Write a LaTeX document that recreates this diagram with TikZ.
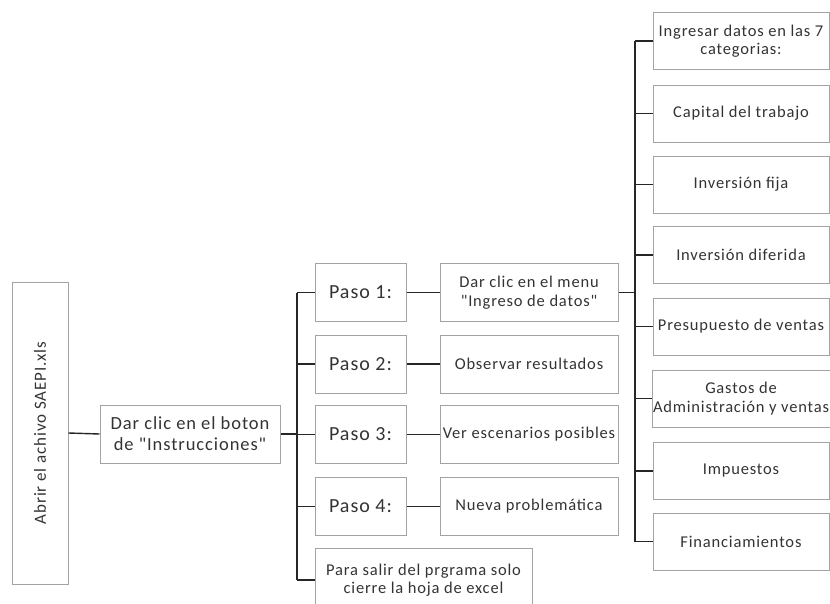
\documentclass[tikz,border=0pt]{standalone}
\usepackage{fontspec}
\setmainfont[LetterSpace=5, Ligatures=TeXOff]{Carlito}
\usetikzlibrary{positioning}
\definecolor{boxgray}{HTML}{A3A3A3}
\definecolor{textgray}{HTML}{333333}
\tikzset
{
	basebox/.style = {rectangle, draw=boxgray, line width=1pt, align=center, text=textgray, inner sep=1pt, font=\fontsize{16.5}{18.5}\selectfont},
	startbox/.style = {basebox, rotate=90, minimum width=302pt, minimum height=56pt, font=\fontsize{17}{20}\selectfont},
	instrbox/.style = {basebox, minimum width=180pt, minimum height=58pt, font=\fontsize{18.5}{21}\selectfont},
	pasobox/.style  = {basebox, minimum width=91pt, minimum height=58pt, font=\fontsize{20}{22}\selectfont},
	stepbox/.style  = {basebox, minimum width=178pt, minimum height=58pt},
	salirbox/.style = {basebox, minimum width=217pt, minimum height=64pt},
	catbox/.style   = {basebox, minimum width=176pt, minimum height=57pt},
	link/.style     = {draw=black!85, line width=1.4pt}
}

\begin{document}
\begin{tikzpicture}[x=1pt, y=-1pt]
\useasboundingbox (0,0) rectangle (830,603);
\node[startbox] (abrir) at (40,433) {Abrir el achivo SAEPI.xls};
\node[instrbox] (instr) at (190,434) {Dar clic en el boton\\de "Instrucciones"};
\node[pasobox] (paso1) at (360.5,292.5) {Paso 1:};
\node[pasobox] (paso2) at (360.5,364) {Paso 2:};
\node[pasobox] (paso3) at (360.5,434.5) {Paso 3:};
\node[pasobox] (paso4) at (360.5,506.5) {Paso 4:};
\node[salirbox] (salir) at (423.5,580) {Para salir del prgrama solo\\cierre la hoja de excel};
\node[stepbox] (menu) at (529,292.5) {Dar clic en el menu\\"Ingreso de datos"};
\node[stepbox] (observar) at (529,364) {Observar resultados};
\node[stepbox] (escenarios) at (529,434.5) {Ver escenarios posibles};
\node[stepbox] (nueva) at (529,506.5) {Nueva problemática};
\node[catbox] (cat0) at (741,41) {Ingresar datos en las 7\\categorias:};
\node[catbox] (cat1) at (741,113.5) {Capital del trabajo};
\node[catbox] (cat2) at (741,184.5) {Inversión fija};
\node[catbox] (cat3) at (741,255) {Inversión diferida};
\node[catbox] (cat4) at (741,326.5) {Presupuesto de ventas};
\node[catbox] (cat5) at (741,398.5) {Gastos de\\Administración y ventas};
\node[catbox] (cat6) at (741,471) {Impuestos};
\node[catbox] (cat7) at (741,541.5) {Financiamientos};
\coordinate (busA) at (297,0);
\coordinate (busB) at (635,0);
\draw[link] (abrir.south) -- (instr.west);
\draw[link] (instr.east) -- (busA |- instr.east);
\draw[link] (busA |- paso1.west) -- (busA |- salir.west);
\draw[link] (busA |- paso1.west) -- (paso1.west);
\draw[link] (busA |- paso2.west) -- (paso2.west);
\draw[link] (busA |- paso3.west) -- (paso3.west);
\draw[link] (busA |- paso4.west) -- (paso4.west);
\draw[link] (busA |- salir.west) -- (salir.west);
\draw[link] (paso1.east) -- (menu.west);
\draw[link] (paso2.east) -- (observar.west);
\draw[link] (paso3.east) -- (escenarios.west);
\draw[link] (paso4.east) -- (nueva.west);
\draw[link] (menu.east) -- (busB |- menu.east);
\draw[link] (busB |- cat0.west) -- (busB |- cat7.west);
\draw[link] (busB |- cat0.west) -- (cat0.west);
\draw[link] (busB |- cat1.west) -- (cat1.west);
\draw[link] (busB |- cat2.west) -- (cat2.west);
\draw[link] (busB |- cat3.west) -- (cat3.west);
\draw[link] (busB |- cat4.west) -- (cat4.west);
\draw[link] (busB |- cat5.west) -- (cat5.west);
\draw[link] (busB |- cat6.west) -- (cat6.west);
\draw[link] (busB |- cat7.west) -- (cat7.west);
\end{tikzpicture}
\end{document}
